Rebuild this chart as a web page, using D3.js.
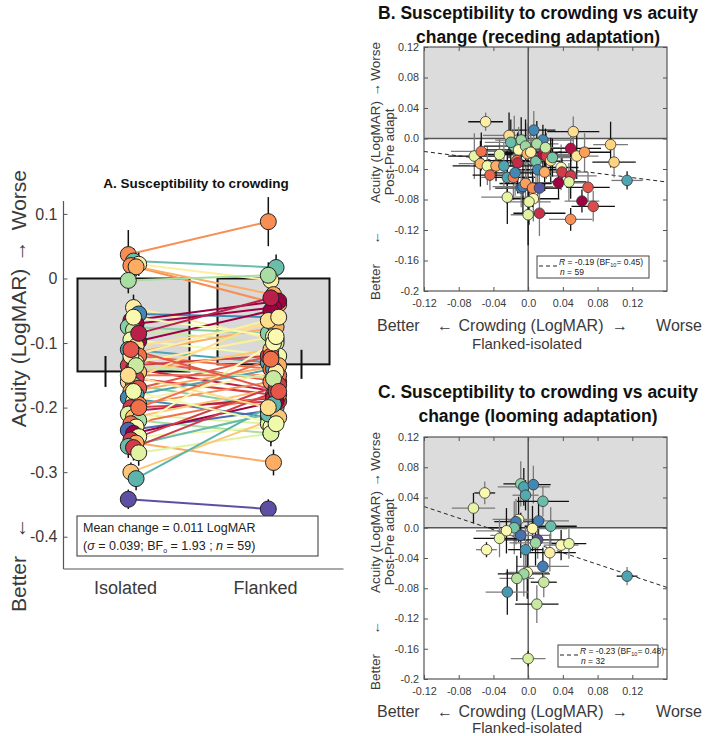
<!DOCTYPE html>
<html><head><meta charset="utf-8">
<script src="https://cdn.jsdelivr.net/npm/d3@7"></script>
<style>body{margin:0;background:#fff}svg{display:block;font-family:"Liberation Sans",Arial,sans-serif}</style>
</head><body><svg id="c" width="716" height="736"></svg>
<script>
// ---------- Panel A data ----------
const categories = ["Isolated", "Flanked"];
const barMeans = [-0.144, -0.133];
const barSE = [0.024, 0.0225];
const aTicks = [0.1, 0, -0.1, -0.2, -0.3, -0.4];
const aTickLabels = ["0.1", "0", "-0.1", "-0.2", "-0.3", "-0.4"];
const aIsolated = [0.037,0.027,0.022,0.020,0.018,-0.003,-0.045,-0.055,-0.065,-0.070,-0.075,-0.080,-0.097,-0.095,-0.105,-0.110,-0.115,-0.120,-0.125,-0.130,-0.135,-0.140,-0.145,-0.150,-0.155,-0.160,-0.165,-0.170,-0.175,-0.180,-0.185,-0.190,-0.195,-0.200,-0.205,-0.210,-0.215,-0.220,-0.225,-0.230,-0.235,-0.240,-0.245,-0.250,-0.255,-0.260,-0.262,-0.270,-0.300,-0.310,-0.342,-0.060,-0.085,-0.120,-0.135,-0.150,-0.175,-0.200,-0.110];
const aFlanked = [0.088,0.017,-0.003,-0.040,-0.025,0.005,-0.095,-0.060,-0.035,-0.045,-0.085,-0.100,-0.050,-0.120,-0.070,-0.130,-0.075,-0.140,-0.160,-0.090,-0.120,-0.175,-0.110,-0.150,-0.180,-0.065,-0.200,-0.120,-0.135,-0.140,-0.215,-0.145,-0.160,-0.190,-0.185,-0.225,-0.170,-0.240,-0.180,-0.100,-0.205,-0.190,-0.230,-0.165,-0.285,-0.210,-0.175,-0.240,-0.215,-0.195,-0.357,-0.090,-0.030,-0.060,-0.155,-0.200,-0.225,-0.125,-0.175];
const aColor = [0.25,0.8,0.45,0.25,0.3,0.7,0.45,0.9,0.0,0.0,0.75,0.65,0.0,0.55,0.4,0.85,0.3,0.2,0.15,0.45,0.1,0.05,0.35,0.2,0.1,0.4,0.75,0.15,0.3,0.85,0.9,0.45,0.25,0.1,0.05,0.6,0.35,0.7,0.2,0.5,0.95,0.0,0.55,0.1,0.3,0.8,0.1,0.6,0.35,0.82,1.0,0.5,0.05,0.45,0.65,0.4,0.55,0.2,0.15];
const aSE = [0.038,0.02,0.018,0.02,0.015,0.02,0.02,0.018,0.02,0.022,0.015,0.02,0.018,0.02,0.02,0.015,0.02,0.018,0.02,0.02,0.022,0.02,0.018,0.015,0.02,0.02,0.018,0.02,0.02,0.015,0.02,0.018,0.02,0.022,0.02,0.018,0.02,0.015,0.02,0.02,0.018,0.02,0.02,0.015,0.02,0.018,0.02,0.02,0.015,0.018,0.015,0.02,0.018,0.02,0.02,0.015,0.02,0.018,0.02];
const aStats = ["Mean change = 0.011 LogMAR", "0.039", "1.93", "59"];

// ---------- Scatter axes ----------
const sTicksY = [0.12,0.08,0.04,0,-0.04,-0.08,-0.12,-0.16,-0.2];
const sTickLabelsY = ["0.12","0.08","0.04","0.0","-0.04","-0.08","-0.12","-0.16","-0.2"];
const sTicksX = [-0.12,-0.08,-0.04,0,0.04,0.08,0.12];
const sTickLabelsX = ["-0.12","-0.08","-0.04","0.0","0.04","0.08","0.12"];

// ---------- Panel B data (receding) ----------
const bX = [-0.049,-0.022,0.0065,0.017,0.052,0.095,0.099,0.114,-0.062,-0.054,-0.033,-0.055,-0.047,-0.037,-0.044,-0.024,-0.017,-0.024,-0.016,-0.008,-0.011,-0.003,-0.001,0.010,-0.013,-0.012,0.009,0.017,0.021,0.026,0.011,0.019,0.038,0.039,0.049,0.056,0.065,0.049,0.047,0.035,0.069,0.062,0.075,0.049,0.013,0.000,0.006,0.001,-0.008,-0.006,-0.003,0.005,0.013,-0.020,0.003,0.028,-0.015,0.020,-0.028];
const bY = [0.022,0.004,0.011,-0.002,0.009,-0.008,-0.031,-0.055,-0.023,-0.017,-0.021,-0.033,-0.036,-0.036,-0.048,-0.051,-0.051,-0.077,-0.010,-0.002,-0.015,-0.010,-0.020,-0.007,-0.029,-0.032,-0.030,-0.021,-0.023,-0.029,-0.041,-0.044,-0.038,-0.044,-0.013,-0.023,-0.018,-0.049,-0.057,-0.058,-0.064,-0.082,-0.089,-0.106,-0.098,-0.100,-0.079,-0.083,-0.065,-0.063,-0.059,-0.065,-0.065,-0.005,-0.018,-0.025,-0.045,-0.012,-0.036];
const bXerr = [0.02,0.03,0.025,0.035,0.03,0.02,0.025,0.018,0.03,0.035,0.03,0.025,0.04,0.03,0.02,0.03,0.025,0.03,0.035,0.03,0.04,0.03,0.035,0.025,0.04,0.03,0.03,0.035,0.03,0.025,0.03,0.035,0.02,0.03,0.035,0.025,0.03,0.03,0.02,0.03,0.025,0.02,0.025,0.025,0.03,0.02,0.03,0.025,0.03,0.035,0.03,0.03,0.025,0.03,0.035,0.03,0.025,0.03,0.035];
const bYerr = [0.012,0.03,0.025,0.02,0.02,0.03,0.02,0.012,0.03,0.025,0.02,0.03,0.025,0.02,0.02,0.035,0.03,0.035,0.04,0.03,0.03,0.035,0.04,0.03,0.035,0.04,0.03,0.025,0.03,0.03,0.035,0.025,0.03,0.02,0.025,0.03,0.025,0.03,0.025,0.02,0.02,0.015,0.02,0.015,0.03,0.04,0.03,0.03,0.025,0.035,0.03,0.025,0.02,0.03,0.03,0.025,0.03,0.025,0.03];
const bColor = [0.45,0.4,0.9,0.9,0.4,0.38,0.38,0.85,0.58,0.2,0.6,0.32,0.55,0.3,0.18,0.85,0.22,0.58,0.75,0.72,0.5,0.72,0.32,0.7,0.2,0.07,0.78,0.03,0.1,0.42,0.9,0.3,0.5,0.1,0.03,0.42,0.28,0.1,0.6,0.0,0.15,0.0,0.13,0.25,0.08,0.6,0.5,0.58,0.92,0.92,0.28,0.25,0.98,0.8,0.45,0.78,0.9,0.65,0.85];
const bFit = [-0.0342, -0.143]; // intercept, slope
const bStats = ["-0.19", "0.45", "59"];

// ---------- Panel C data (looming) ----------
const cX = [-0.050,-0.063,-0.0085,-0.005,0.006,-0.003,0.017,-0.011,-0.014,0.012,-0.016,-0.025,-0.033,0.005,0.026,-0.0085,0.011,0.0085,-0.003,-0.048,0.025,0.038,0.047,0.017,0.114,-0.001,-0.005,-0.013,0.018,-0.024,0.010,0.000];
const cY = [0.046,0.026,0.058,0.054,0.057,0.043,0.035,0.011,0.008,0.009,0.000,-0.004,-0.014,-0.001,0.002,-0.010,-0.016,-0.020,-0.029,-0.029,-0.033,-0.023,-0.021,-0.051,-0.064,-0.059,-0.061,-0.067,-0.072,-0.085,-0.101,-0.173];
const cXerr = [0.012,0.025,0.02,0.03,0.02,0.015,0.03,0.03,0.025,0.035,0.03,0.035,0.03,0.04,0.03,0.035,0.04,0.03,0.02,0.012,0.03,0.02,0.02,0.03,0.012,0.025,0.03,0.02,0.015,0.025,0.025,0.02];
const cYerr = [0.015,0.02,0.03,0.025,0.025,0.02,0.02,0.03,0.03,0.025,0.035,0.03,0.025,0.03,0.025,0.03,0.025,0.03,0.03,0.01,0.025,0.02,0.02,0.025,0.012,0.035,0.03,0.03,0.02,0.03,0.025,0.01];
const cColor = [0.5,0.58,0.75,0.85,0.9,0.84,0.8,0.5,0.92,0.92,0.78,0.5,0.58,0.48,0.8,0.94,1.0,0.72,0.88,0.5,0.45,0.5,0.58,0.92,0.85,0.52,0.72,0.68,0.65,0.87,0.65,0.62];
const cFit = [-0.0178, -0.382];
const cStats = ["-0.23", "0.48", "32"];

// ---------- drawing ----------
const svg = d3.select("#c");
const col = d3.scaleSequential(d3.interpolateSpectral).domain([0, 1]);
const txtCol = "#3a3a3a";

function rotText(g, x, y, str, size, anchor, fill) {
  g.append("text").attr("transform", `translate(${x},${y}) rotate(-90)`)
    .attr("text-anchor", anchor).attr("font-size", size).attr("fill", fill || txtCol).text(str);
}

// ===== Panel A =====
const A = svg.append("g");
const yA = d3.scaleLinear().domain([-0.45, 0.12]).range([569, 201]);
const xA = d3.scaleLinear().domain([0.5, 2.5]).range([63.5, 343.5]);

A.append("text").attr("x", 196).attr("y", 188).attr("text-anchor", "middle")
  .attr("font-size", 13.5).attr("font-weight", "bold").attr("fill", "#111")
  .text("A. Susceptibility to crowding");

categories.forEach((c, i) => {
  const x0 = xA(i + 1 - 0.4), x1 = xA(i + 1 + 0.4);
  A.append("rect").attr("x", x0).attr("y", yA(0)).attr("width", x1 - x0)
    .attr("height", yA(barMeans[i]) - yA(0)).attr("fill", "#d9d9d9")
    .attr("stroke", "#111").attr("stroke-width", 2);
});

A.append("line").attr("x1", xA(0.5)).attr("x2", xA(0.5)).attr("y1", yA(0.12)).attr("y2", yA(-0.45))
  .attr("stroke", "#555").attr("stroke-width", 1.2);
A.append("line").attr("x1", xA(0.5)).attr("x2", xA(2.5)).attr("y1", yA(-0.45)).attr("y2", yA(-0.45))
  .attr("stroke", "#555").attr("stroke-width", 1.2);
const axA = A.append("g").attr("transform", `translate(${xA(0.5)},0)`)
  .call(d3.axisLeft(yA).tickValues(aTicks).tickSize(-4).tickPadding(6)
    .tickFormat((d, i) => aTickLabels[i]));
axA.select(".domain").remove();
axA.selectAll("line").attr("stroke", "#555");
axA.selectAll("text").attr("font-size", 16).attr("fill", txtCol).attr("font-family", "Liberation Sans, Arial, sans-serif");

categories.forEach((c, i) => {
  A.append("text").attr("x", xA(i + 1) - 8).attr("y", 594).attr("text-anchor", "middle")
    .attr("font-size", 18).attr("fill", txtCol).text(c);
});

rotText(A, 26, 612, "Better", 21, "start");
rotText(A, 26, 528, "←", 21, "middle");
rotText(A, 26, 348, "Acuity (LogMAR)", 21, "middle");
rotText(A, 26, 251, "→", 21, "middle");
rotText(A, 26, 170, "Worse", 21, "end");

const jit = i => ((i * 7) % 5 - 2) * 2.6;
const jit2 = i => ((i * 3) % 5 - 2) * 2.6;
const n = aIsolated.length;
for (let i = 0; i < n; i++) {
  A.append("line").attr("x1", xA(1) + jit(i)).attr("y1", yA(aIsolated[i]))
    .attr("x2", xA(2) + jit2(i)).attr("y2", yA(aFlanked[i]))
    .attr("stroke", col(aColor[i])).attr("stroke-width", 2);
}
for (let i = 0; i < n; i++) {
  [[xA(1) + jit(i), aIsolated[i]], [xA(2) + jit2(i), aFlanked[i]]].forEach(([x, v]) => {
    A.append("line").attr("x1", x).attr("x2", x).attr("y1", yA(v + aSE[i])).attr("y2", yA(v - aSE[i]))
      .attr("stroke", "#111").attr("stroke-width", 1.5);
  });
}
for (let i = 0; i < n; i++) {
  A.append("circle").attr("cx", xA(1) + jit(i)).attr("cy", yA(aIsolated[i])).attr("r", 8)
    .attr("fill", col(aColor[i])).attr("stroke", "#222").attr("stroke-width", 1);
  A.append("circle").attr("cx", xA(2) + jit2(i)).attr("cy", yA(aFlanked[i])).attr("r", 8)
    .attr("fill", col(aColor[i])).attr("stroke", "#222").attr("stroke-width", 1);
}
categories.forEach((c, i) => {
  const ex = xA(i + 1 + (i === 0 ? -0.2 : 0.2));
  A.append("line").attr("x1", ex).attr("x2", ex).attr("y1", yA(barMeans[i] + barSE[i]))
    .attr("y2", yA(barMeans[i] - barSE[i])).attr("stroke", "#111").attr("stroke-width", 2);
});

A.append("rect").attr("x", 77).attr("y", 516).attr("width", 241).attr("height", 40)
  .attr("fill", "#fff").attr("stroke", "#333").attr("stroke-width", 1);
A.append("text").attr("x", 83).attr("y", 532).attr("font-size", 12.5).attr("fill", "#222").text(aStats[0]);
const t2 = A.append("text").attr("x", 83).attr("y", 550).attr("font-size", 12.5).attr("fill", "#222");
t2.append("tspan").text("(");
t2.append("tspan").attr("font-style", "italic").text("σ");
t2.append("tspan").text(` = ${aStats[1]}; BF`);
t2.append("tspan").attr("font-size", 7).attr("dy", 3).text("o");
t2.append("tspan").attr("dy", -3).text(` = ${aStats[2]} ; `);
t2.append("tspan").attr("font-style", "italic").text("n");
t2.append("tspan").text(` = ${aStats[3]})`);

// ===== Scatter panels =====
const xS = d3.scaleLinear().domain([-0.12, 0.16]).range([424, 667]);

function scatterPanel(top, bottom, titleLines, titleY, xs, ys, xe, ye, cs, fit, stats, legBox, labelY, labelGap, ylabOff, clipId) {
  const g = svg.append("g");
  const yS = d3.scaleLinear().domain([-0.2, 0.12]).range([bottom, top]);
  titleLines.forEach((t, k) => {
    g.append("text").attr("x", 538).attr("y", titleY + k * 24).attr("text-anchor", "middle")
      .attr("font-size", 17.5).attr("font-weight", "bold").attr("fill", "#111").text(t);
  });
  g.append("clipPath").attr("id", clipId).append("rect")
    .attr("x", xS(-0.12)).attr("y", top).attr("width", xS(0.16) - xS(-0.12)).attr("height", bottom - top);
  const inner = g.append("g").attr("clip-path", `url(#${clipId})`);
  inner.append("rect").attr("x", xS(-0.12)).attr("y", yS(0.12)).attr("width", xS(0.16) - xS(-0.12))
    .attr("height", yS(0) - yS(0.12)).attr("fill", "#dcdcdc");
  inner.append("line").attr("x1", xS(-0.12)).attr("x2", xS(0.16)).attr("y1", yS(0)).attr("y2", yS(0))
    .attr("stroke", "#555").attr("stroke-width", 1.5);
  inner.append("line").attr("x1", xS(0)).attr("x2", xS(0)).attr("y1", top).attr("y2", bottom)
    .attr("stroke", "#111").attr("stroke-width", 1);
  inner.append("line").attr("x1", xS(-0.12)).attr("x2", xS(0.16))
    .attr("y1", yS(fit[0] + fit[1] * -0.12)).attr("y2", yS(fit[0] + fit[1] * 0.16))
    .attr("stroke", "#222").attr("stroke-width", 1).attr("stroke-dasharray", "4,3");
  xs.forEach((x, i) => {
    const c1 = i % 2 ? "#7a7a7a" : "#111", c2 = i % 2 ? "#111" : "#7a7a7a";
    inner.append("line").attr("x1", xS(x - xe[i])).attr("x2", xS(x + xe[i])).attr("y1", yS(ys[i])).attr("y2", yS(ys[i]))
      .attr("stroke", c1).attr("stroke-width", 1.3);
    inner.append("line").attr("x1", xS(x)).attr("x2", xS(x)).attr("y1", yS(ys[i] - ye[i])).attr("y2", yS(ys[i] + ye[i]))
      .attr("stroke", c2).attr("stroke-width", 1.3);
  });
  xs.forEach((x, i) => {
    inner.append("circle").attr("cx", xS(x)).attr("cy", yS(ys[i])).attr("r", 5.3)
      .attr("fill", col(cs[i])).attr("stroke", "#333").attr("stroke-width", 0.8);
  });
  g.append("rect").attr("x", xS(-0.12)).attr("y", top).attr("width", xS(0.16) - xS(-0.12)).attr("height", bottom - top)
    .attr("fill", "none").attr("stroke", "#555").attr("stroke-width", 1.2);
  const styleAx = sel => {
    sel.select(".domain").remove();
    sel.selectAll("line").attr("stroke", "#555");
    sel.selectAll("text").attr("font-size", 10.8).attr("fill", txtCol).attr("font-family", "Liberation Sans, Arial, sans-serif");
  };
  g.append("g").attr("transform", `translate(${xS(-0.12)},0)`)
    .call(d3.axisLeft(yS).tickValues(sTicksY).tickSize(-4).tickPadding(5).tickFormat((d, i) => sTickLabelsY[i])).call(styleAx);
  g.append("g").attr("transform", `translate(${xS(0.16)},0)`)
    .call(d3.axisRight(yS).tickValues(sTicksY).tickSize(-4).tickFormat("")).call(styleAx);
  g.append("g").attr("transform", `translate(0,${bottom})`)
    .call(d3.axisBottom(xS).tickValues(sTicksX).tickSize(-4).tickPadding(8).tickFormat((d, i) => sTickLabelsX[i])).call(styleAx);
  g.append("g").attr("transform", `translate(0,${top})`)
    .call(d3.axisTop(xS).tickValues(sTicksX).tickSize(-4).tickFormat("")).call(styleAx);
  const [lx, ly, lw, lh] = legBox;
  g.append("rect").attr("x", lx).attr("y", ly).attr("width", lw).attr("height", lh)
    .attr("fill", "#fff").attr("stroke", "#444").attr("stroke-width", 1);
  g.append("line").attr("x1", lx + 2).attr("x2", lx + 21).attr("y1", ly + 10).attr("y2", ly + 10)
    .attr("stroke", "#222").attr("stroke-dasharray", "4,3").attr("stroke-width", 1);
  const lt = g.append("text").attr("x", lx + 22).attr("y", ly + 9).attr("font-size", 8.5).attr("fill", "#222");
  lt.append("tspan").attr("font-style", "italic").text("R");
  lt.append("tspan").text(` = ${stats[0]} (BF`);
  lt.append("tspan").attr("font-size", 5.5).attr("dy", 2).text("10");
  lt.append("tspan").attr("dy", -2).text(`= ${stats[1]})`);
  const lt2 = g.append("text").attr("x", lx + 23).attr("y", ly + 19).attr("font-size", 8.5).attr("fill", "#222");
  lt2.append("tspan").attr("font-style", "italic").text("n");
  lt2.append("tspan").text(` = ${stats[2]}`);
  const fs = 16;
  g.append("text").attr("x", 377).attr("y", labelY).attr("font-size", fs).attr("fill", txtCol).text("Better");
  g.append("text").attr("x", 445).attr("y", labelY).attr("text-anchor", "middle").attr("font-size", fs).attr("fill", txtCol).text("←");
  g.append("text").attr("x", 531).attr("y", labelY).attr("text-anchor", "middle").attr("font-size", fs).attr("fill", txtCol).text("Crowding (LogMAR)");
  g.append("text").attr("x", 620).attr("y", labelY).attr("text-anchor", "middle").attr("font-size", fs).attr("fill", txtCol).text("→");
  g.append("text").attr("x", 702).attr("y", labelY).attr("text-anchor", "end").attr("font-size", fs).attr("fill", txtCol).text("Worse");
  g.append("text").attr("x", 527).attr("y", labelY + labelGap).attr("text-anchor", "middle").attr("font-size", 15).attr("fill", txtCol).text("Flanked-isolated");
  const ys1 = 13.5;
  rotText(g, 380, ylabOff + 300, "Better", ys1, "start");
  rotText(g, 380, ylabOff + 238, "←", ys1, "middle");
  rotText(g, 380, ylabOff + 152, "Acuity (LogMAR)", ys1, "middle");
  rotText(g, 380, ylabOff + 90, "→", ys1, "middle");
  rotText(g, 380, ylabOff + 42, "Worse", ys1, "end");
  rotText(g, 394, ylabOff + 152, "Post-Pre adapt", 13, "middle");
}

scatterPanel(47, 291, ["B. Susceptibility to crowding vs acuity", "change (receding adaptation)"], 19,
  bX, bY, bXerr, bYerr, bColor, bFit, bStats, [537, 256, 112, 22], 331, 18, 0, "clipB");
scatterPanel(437, 679, ["C. Susceptibility to crowding vs acuity", "change (looming adaptation)"], 398,
  cX, cY, cXerr, cYerr, cColor, cFit, cStats, [558, 645, 100, 22], 717, 16, 390, "clipC");
</script></body></html>
